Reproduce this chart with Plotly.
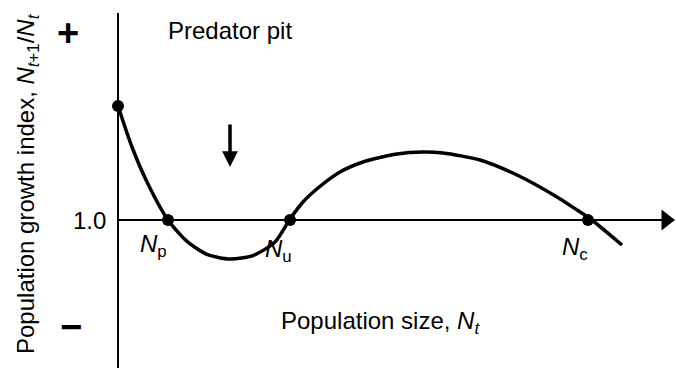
import plotly.graph_objects as go

# Schematic curve: population size (arbitrary units) vs growth index N(t+1)/N(t)
pop_size = [0.0, 0.14, 0.29, 0.50, 0.69, 0.89, 1.12, 1.35, 1.57, 1.72, 1.85, 2.00,
            2.22, 2.45, 2.79, 3.05, 3.25, 3.62, 3.99, 4.39, 4.59, 4.70, 5.04]
growth_index = [1.570, 1.365, 1.190, 1.000, 0.893, 0.828, 0.805, 0.822, 0.890, 1.005,
                1.090, 1.160, 1.240, 1.290, 1.330, 1.340, 1.335, 1.300, 1.225, 1.115,
                1.050, 1.015, 0.875]

# Marked equilibrium points
pt_labels = ["", "N_p", "N_u", "N_c"]
pt_x = [0.0, 0.50, 1.72, 4.70]
pt_y = [1.570, 1.0, 1.0, 1.0]

X_AXIS_END = 5.48

FONT = "Liberation Sans, Arial, sans-serif"

fig = go.Figure()

# Axes drawn as lines
fig.add_shape(type="line", x0=0, x1=0, y0=0.26, y1=2.035,
              line=dict(color="black", width=2))
fig.add_shape(type="line", x0=0, x1=X_AXIS_END, y0=1.0, y1=1.0,
              line=dict(color="black", width=2))
fig.add_trace(go.Scatter(
    x=[X_AXIS_END], y=[1.0], mode="markers",
    marker=dict(color="black", size=18, symbol="triangle-right"),
    hoverinfo="skip", showlegend=False))

fig.add_trace(go.Scatter(
    x=pop_size, y=growth_index, mode="lines",
    line=dict(color="black", width=3.5, shape="spline", smoothing=0.7),
    hoverinfo="skip", showlegend=False))

fig.add_trace(go.Scatter(
    x=pt_x, y=pt_y, mode="markers",
    marker=dict(color="black", size=12),
    hoverinfo="skip", showlegend=False))

# Down arrow (predator pit)
fig.add_annotation(x=1.12, y=1.265, ax=1.12, ay=1.485, axref="x", ayref="y",
                   xref="x", yref="y", showarrow=True, text="",
                   arrowhead=2, arrowsize=0.9, arrowwidth=3.5, arrowcolor="black")

def txt(x, y, s, size=24, **kw):
    fig.add_annotation(x=x, y=y, xref="x", yref="y", text=s, showarrow=False,
                       font=dict(family=FONT, size=size, color="black"), **kw)

txt(1.12, 1.95, "Predator pit", xanchor="center")
txt(-0.29, 1.0, "1.0")
txt(-0.50, 1.935, "<b>+</b>", size=38)
txt(-0.47, 0.465, "<b>−</b>", size=38)
txt(0.35, 0.875, "<i>N</i><sub>p</sub>")
txt(1.60, 0.850, "<i>N</i><sub>u</sub>")
txt(4.57, 0.860, "<i>N</i><sub>c</sub>")
txt(2.62, 0.49, "Population size, <i>N</i><sub><i>t</i></sub>")
txt(-0.91, 1.18,
    "Population growth index, <i>N</i><sub><i>t</i>+1</sub>/<i>N</i><sub><i>t</i></sub>",
    textangle=-90)

fig.update_layout(
    width=676, height=370,
    margin=dict(l=0, r=0, t=0, b=0),
    paper_bgcolor="white", plot_bgcolor="white",
    xaxis=dict(range=[-1.18, 5.58], visible=False, fixedrange=True),
    yaxis=dict(range=[0.25, 2.10], visible=False, fixedrange=True),
    showlegend=False,
)

fig.write_html("out.html", config={"displayModeBar": False},
               post_script="document.body.style.margin='0';document.body.style.overflow='hidden';")
